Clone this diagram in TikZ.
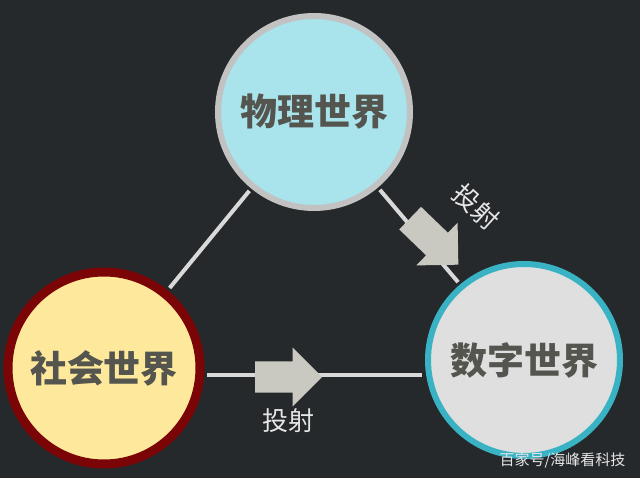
\documentclass[tikz,border=0pt]{standalone}
\usepackage{fontspec}
\newfontfamily\cjk{Noto Sans CJK SC}
\usetikzlibrary{shapes.arrows}

\definecolor{bgdark}{HTML}{25292B}
\definecolor{textgray}{HTML}{55554F}
\definecolor{physfill}{HTML}{A9E3EC}
\definecolor{physring}{HTML}{C2C2C2}
\definecolor{socialfill}{HTML}{FDE89B}
\definecolor{socialring}{HTML}{7A0406}
\definecolor{digitalfill}{HTML}{DFDFDF}
\definecolor{digitalring}{HTML}{39B2C3}
\definecolor{linkgray}{HTML}{D9D9D9}
\definecolor{arrowgray}{HTML}{C9C9C2}
\definecolor{labelwhite}{HTML}{E6E6E6}

\tikzset{
  world/.style={draw,circle,minimum size=192pt,inner sep=0pt,text=textgray,
    font=\cjk\bfseries\fontsize{37}{40}\selectfont},
  link/.style={draw=linkgray,line width=4pt,shorten <=3pt,shorten >=3pt},
  proj/.style={single arrow,fill=arrowgray,minimum height=67pt,anchor=tail,
    inner xsep=0pt,inner ysep=15.5pt,single arrow head extend=14pt},
  projlabel/.style={text=labelwhite,font=\cjk\fontsize{26}{28}\selectfont}
}

\begin{document}
\begin{tikzpicture}[x=1pt,y=-1pt]
  \useasboundingbox (0,0) rectangle (640,478);
  \fill[bgdark] (0,0) rectangle (640,478);

  \draw (314,112) node[world,fill=physfill,draw=physring,line width=6pt] (phys) {物理世界};
  \draw (104,368) node[world,fill=socialfill,draw=socialring,line width=9pt] (social) {社会世界};
  \draw (524,360) node[world,fill=digitalfill,draw=digitalring,line width=6pt] (digital) {数字世界};

  \draw[link] (phys) -- (social);
  \draw[link] (phys) -- (digital);
  \draw[link] (social.-4) -- (social.-4 -| digital.west);

  \node[proj] (flat) at (255,377) {};
  \node[proj,rotate=-44] (slant) at (410,218) {};

  \node[projlabel] (flatlabel) at (288,421) {投射};
  \node[projlabel,rotate=-42] (slantlabel) at (476,207) {投射};

  \node[anchor=east,text=labelwhite,font=\cjk\fontsize{15}{17}\selectfont] (mark) at (629,460) {百家号/海峰看科技};

\end{tikzpicture}
\end{document}
